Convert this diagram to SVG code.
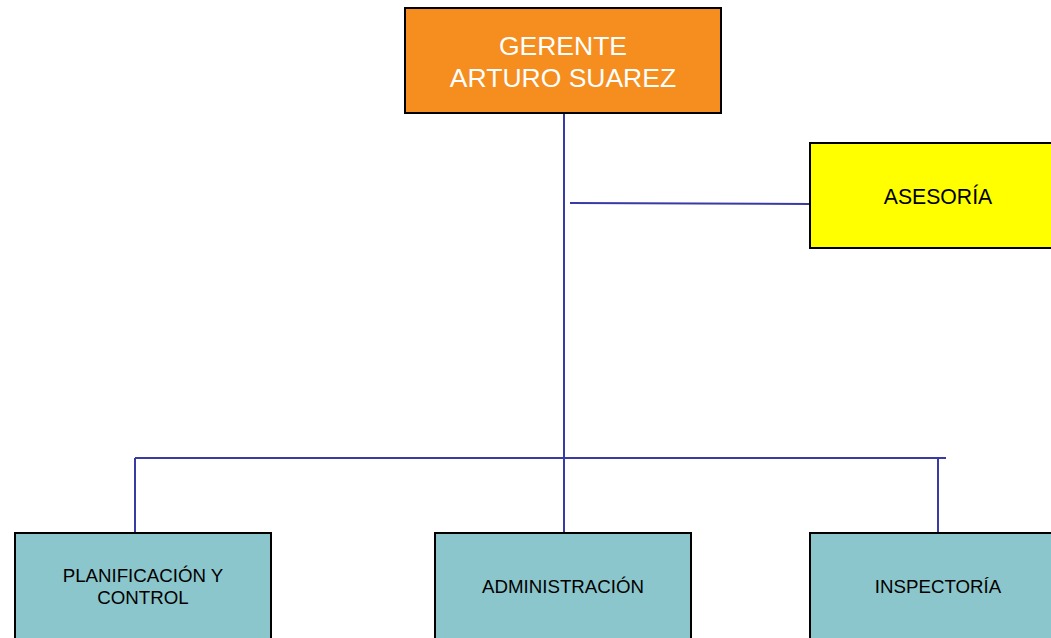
<svg xmlns="http://www.w3.org/2000/svg" width="1051" height="638" viewBox="0 0 1051 638">
<style>
.box{stroke:#000;stroke-width:2}
.dept{fill:#8BC6CC}
.t{font-family:"Liberation Sans",Arial,sans-serif;text-anchor:middle}
.dt{font-size:18.7px;fill:#000}
.conn{stroke:#3A3AA6;stroke-width:2;fill:none}
</style>
<rect width="1051" height="638" fill="#fff"/>
<g id="connectors">
<line class="conn" x1="564" y1="113" x2="564" y2="533"/>
<line class="conn" x1="570" y1="203" x2="810" y2="204"/>
<line class="conn" x1="135" y1="458" x2="946" y2="458"/>
<line class="conn" x1="135" y1="458" x2="135" y2="533"/>
<line class="conn" x1="938" y1="458" x2="938" y2="533"/>
</g>
<g id="gerente">
<rect class="box" x="405" y="8" width="316" height="105" fill="#F58E1E"/>
<text class="t" x="563" y="55" font-size="26.5" fill="#fff">GERENTE</text>
<text class="t" x="563" y="87" font-size="26.5" fill="#fff">ARTURO SUAREZ</text>
</g>
<g id="asesoria">
<rect class="box" x="810" y="143" width="245" height="105" fill="#FFFF00"/>
<text class="t" x="938" y="204" font-size="21.2" fill="#000">ASESORÍA</text>
</g>
<g id="planificacion">
<rect class="box dept" x="15" y="533" width="256" height="110"/>
<text class="t dt" x="143" y="582">PLANIFICACIÓN Y</text>
<text class="t dt" x="143" y="604">CONTROL</text>
</g>
<g id="administracion">
<rect class="box dept" x="435" y="533" width="256" height="110"/>
<text class="t dt" x="563" y="593">ADMINISTRACIÓN</text>
</g>
<g id="inspectoria">
<rect class="box dept" x="810" y="533" width="256" height="110"/>
<text class="t dt" x="938" y="593">INSPECTORÍA</text>
</g>
</svg>
